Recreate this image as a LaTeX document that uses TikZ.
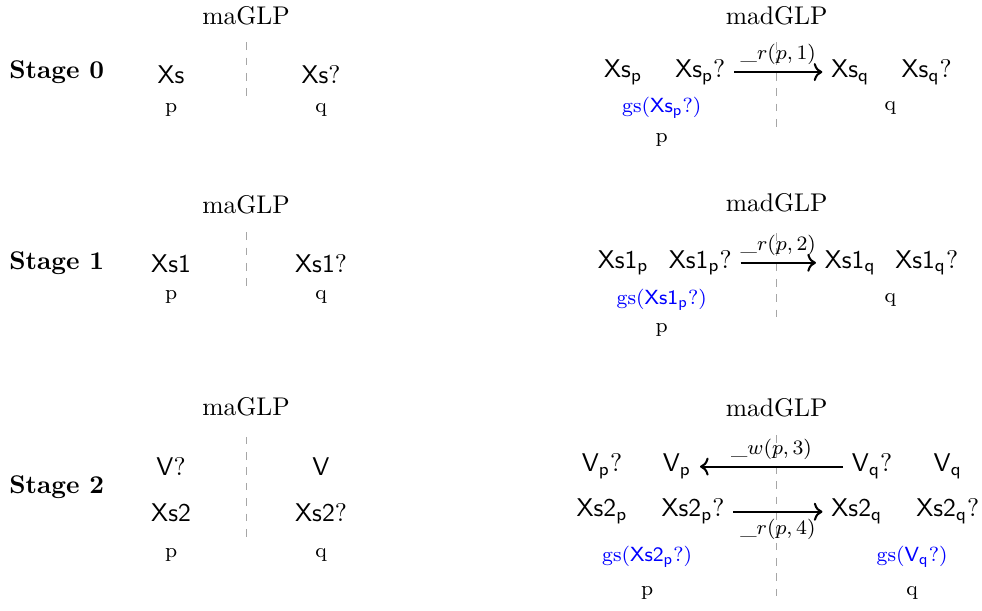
\documentclass[tikz,border=0pt]{standalone}
\usepackage{amsmath,amssymb}
\usepackage{xcolor}
\usepackage{tikz}
\usetikzlibrary{positioning,arrows.meta}
\newcommand{\sv}[1]{\mathsf{#1}}

\begin{document}
\begin{tikzpicture}[
  stage/.style={font=\bfseries},
  var/.style={inner sep=3.3pt},
  proc/.style={font=\footnotesize},
  gsl/.style={font=\footnotesize,text=blue},
  lbl/.style={font=\footnotesize},
  divide/.style={dashed,gray!70,thin},
  msg/.style={->,thick}
]
\useasboundingbox (0,0) rectangle (13.49,-8.38);
% ---------------- stage 0
\node[stage] (s0) at (0.78,-0.99) {Stage 0};
\node (h0a) at (3.38,-0.21) {maGLP};
\draw[divide] (3.38,-0.58) coordinate (d0a) -- (3.38,-1.35) coordinate (d0b);
\node[var] (a0p) at (2.35,-1.02) {$\sv{Xs}$};
\node[var] (a0q) at (4.41,-1.02) {$\sv{Xs}?$};
\node[proc] (a0pl) at (2.35,-1.51) {p};
\node[proc] (a0ql) at (4.41,-1.51) {q};
\node (h0b) at (10.67,-0.21) {madGLP};
\draw[divide] (10.67,-0.58) coordinate (e0a) -- (10.67,-1.79) coordinate (e0b);
\node[var] (b0p1) at (8.56,-0.99) {$\sv{Xs}_\sv{p}$};
\node[var] (b0p2) at (9.62,-0.99) {$\sv{Xs}_\sv{p}?$};
\node[var] (b0q1) at (11.68,-0.99) {$\sv{Xs}_\sv{q}$};
\node[var] (b0q2) at (12.73,-0.99) {$\sv{Xs}_\sv{q}?$};
\node[gsl] (g0) at (9.09,-1.48) {gs($\sv{Xs}_\sv{p}?$)};
\node[proc] (b0pl) at (9.09,-1.92) {p};
\node[proc] (b0ql) at (12.23,-1.48) {q};
\draw[msg] (b0p2) -- node[lbl,above=-1pt] {$\_r(p,1)$} (b0q1);
% ---------------- stage 1
\node[stage] (s1) at (0.78,-3.62) {Stage 1};
\node (h1a) at (3.38,-2.81) {maGLP};
\draw[divide] (3.38,-3.19) coordinate (d1a) -- (3.38,-3.96) coordinate (d1b);
\node[var] (a1p) at (2.35,-3.62) {$\sv{Xs1}$};
\node[var] (a1q) at (4.41,-3.62) {$\sv{Xs1}?$};
\node[proc] (a1pl) at (2.35,-4.08) {p};
\node[proc] (a1ql) at (4.41,-4.08) {q};
\node (h1b) at (10.67,-2.79) {madGLP};
\draw[divide] (10.67,-3.20) coordinate (e1a) -- (10.67,-4.37) coordinate (e1b);
\node[var] (b1p1) at (8.56,-3.61) {$\sv{Xs1}_\sv{p}$};
\node[var] (b1p2) at (9.62,-3.61) {$\sv{Xs1}_\sv{p}?$};
\node[var] (b1q1) at (11.68,-3.61) {$\sv{Xs1}_\sv{q}$};
\node[var] (b1q2) at (12.73,-3.61) {$\sv{Xs1}_\sv{q}?$};
\node[gsl] (g1) at (9.09,-4.12) {gs($\sv{Xs1}_\sv{p}?$)};
\node[proc] (b1pl) at (9.09,-4.53) {p};
\node[proc] (b1ql) at (12.23,-4.12) {q};
\draw[msg] (b1p2) -- node[lbl,above=-1pt] {$\_r(p,2)$} (b1q1);
% ---------------- stage 2
\node[stage] (s2) at (0.78,-6.69) {Stage 2};
\node (h2a) at (3.38,-5.59) {maGLP};
\draw[divide] (3.38,-6.00) coordinate (d2a) -- (3.38,-7.39) coordinate (d2b);
\node[var] (a2pv) at (2.35,-6.41) {$\sv{V}?$};
\node[var] (a2qv) at (4.41,-6.41) {$\sv{V}$};
\node[var] (a2px) at (2.35,-7.04) {$\sv{Xs2}$};
\node[var] (a2qx) at (4.41,-7.04) {$\sv{Xs2}?$};
\node[proc] (a2pl) at (2.35,-7.62) {p};
\node[proc] (a2ql) at (4.41,-7.62) {q};
\node (h2b) at (10.67,-5.60) {madGLP};
\draw[divide] (10.67,-5.98) coordinate (e2a) -- (10.67,-8.27) coordinate (e2b);
\node[var] (b2pv1) at (8.27,-6.41) {$\sv{V}_\sv{p}?$};
\node[var] (b2pv2) at (9.30,-6.41) {$\sv{V}_\sv{p}$};
\node[var] (b2qv1) at (11.98,-6.41) {$\sv{V}_\sv{q}?$};
\node[var] (b2qv2) at (13.02,-6.41) {$\sv{V}_\sv{q}$};
\node[var] (b2px1) at (8.27,-7.03) {$\sv{Xs2}_\sv{p}$};
\node[var] (b2px2) at (9.52,-7.03) {$\sv{Xs2}_\sv{p}?$};
\node[var] (b2qx1) at (11.77,-7.03) {$\sv{Xs2}_\sv{q}$};
\node[var] (b2qx2) at (13.02,-7.03) {$\sv{Xs2}_\sv{q}?$};
\node[gsl] (g2p) at (8.89,-7.65) {gs($\sv{Xs2}_\sv{p}?$)};
\node[gsl] (g2q) at (12.53,-7.65) {gs($\sv{V}_\sv{q}?$)};
\node[proc] (b2pl) at (8.89,-8.15) {p};
\node[proc] (b2ql) at (12.53,-8.15) {q};
\draw[msg] (b2qv1) -- node[lbl,above=-1pt] {$\_w(p,3)$} (b2pv2);
\draw[msg] (b2px2) -- node[lbl,below=-1pt] {$\_r(p,4)$} (b2qx1);
\end{tikzpicture}
\end{document}
